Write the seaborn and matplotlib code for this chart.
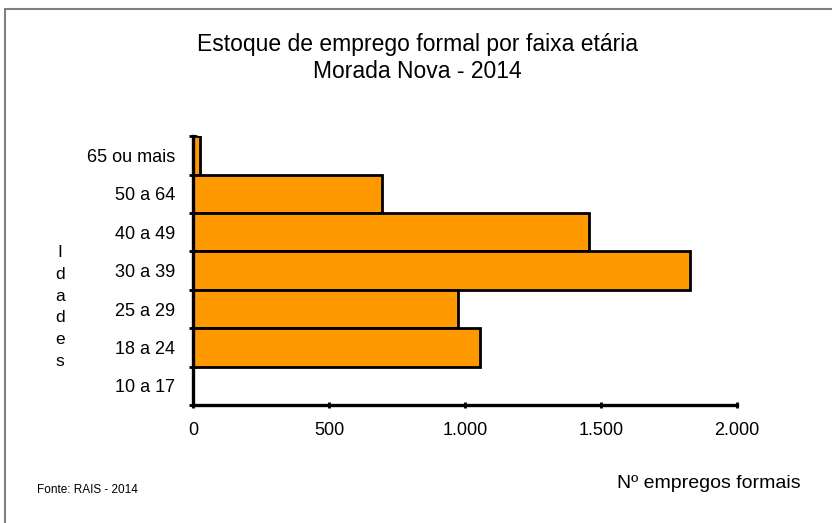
import numpy as np
import pandas as pd
import seaborn as sns
import matplotlib.pyplot as plt
from matplotlib.lines import Line2D
from matplotlib.ticker import FuncFormatter

# dados (RAIS 2014, Morada Nova)
faixas = ["65 ou mais", "50 a 64", "40 a 49", "30 a 39", "25 a 29", "18 a 24", "10 a 17"]
empregos = [26, 696, 1457, 1826, 975, 1053, 0]
x_ticks = [0, 500, 1000, 1500, 2000]

sns.set_style("white")
plt.rcParams['font.family'] = ['Liberation Sans', 'DejaVu Sans']
plt.rcParams['text.color'] = 'black'
plt.rcParams['xtick.color'] = 'black'
plt.rcParams['ytick.color'] = 'black'

df = pd.DataFrame({"faixa": faixas, "empregos": empregos})

fig = plt.figure(figsize=(8.32, 5.23), dpi=100)
ax = fig.add_axes([0.232, 0.2256, 0.654, 0.514])

sns.barplot(data=df, x="empregos", y="faixa", order=faixas, orient="h",
            color="#FF9900", saturation=1, width=1.0,
            edgecolor="black", linewidth=2, ax=ax)

ax.set_xlim(0, 2000)
ax.set_ylim(len(faixas) - 0.5, -0.5)
ax.set_xticks(x_ticks)
ax.xaxis.set_major_formatter(FuncFormatter(lambda v, p: f"{int(v):,}".replace(",", ".")))
ax.set_yticks(range(len(faixas)))
ax.set_yticks(np.arange(-0.5, len(faixas), 1), minor=True)
ax.tick_params(axis="y", which="major", length=0, pad=13, labelsize=13, labelcolor="black")
ax.tick_params(axis="y", which="minor", length=6, width=2, direction="inout", left=True)
ax.tick_params(axis="x", which="major", length=4, width=2, direction="inout",
               bottom=True, pad=10, labelsize=13, labelcolor="black")
ax.set_xlabel("")
ax.set_ylabel("")

for s in ["top", "right"]:
    ax.spines[s].set_visible(False)
for s in ["left", "bottom"]:
    ax.spines[s].set_linewidth(2.4)
    ax.spines[s].set_color("black")

fig.text(0.502, 0.889, "Estoque de emprego formal por faixa etária\nMorada Nova - 2014",
         ha="center", va="center", fontsize=16.5, linespacing=1.2)
fig.text(0.072, 0.413, "I\nd\na\nd\ne\ns", ha="center", va="center",
         fontsize=12.5, linespacing=1.58)
fig.text(0.045, 0.063, "Fonte: RAIS - 2014", ha="left", va="center", fontsize=8.5)
fig.text(0.742, 0.075, "Nº empregos formais", ha="left", va="center", fontsize=14)

# moldura cinza
fig.add_artist(Line2D([5 / 832, 5 / 832], [0, 1 - 9 / 523], color="gray", lw=1.5))
fig.add_artist(Line2D([5 / 832, 1], [1 - 9 / 523, 1 - 9 / 523], color="gray", lw=1.5))

fig.savefig("out.png", dpi=100)
